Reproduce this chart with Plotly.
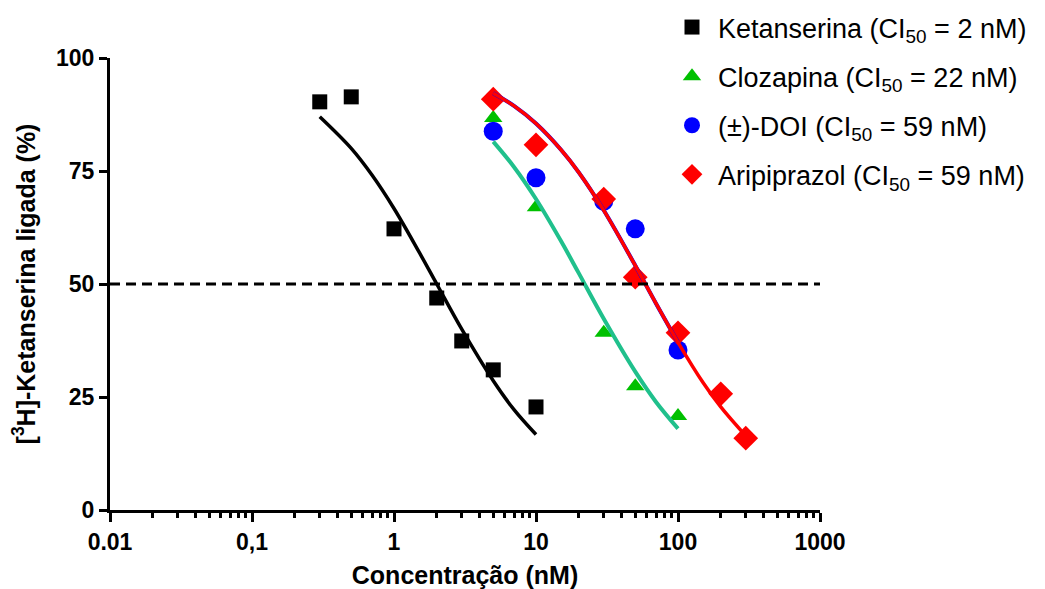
import plotly.graph_objects as go

# ---- data ----
conc_ket = [0.3, 0.5, 1, 2, 3, 5, 10]
bound_ket = [90.3, 91.4, 62.2, 46.9, 37.4, 31.0, 22.8]

conc_cloz = [5, 10, 30, 50, 100]
bound_cloz = [86.7, 67.0, 39.2, 27.4, 20.8]

conc_doi = [5, 10, 30, 50, 100]
bound_doi = [83.8, 73.5, 68.3, 62.2, 35.4]

conc_ari = [5, 10, 30, 50, 100, 200, 300]
bound_ari = [90.9, 80.8, 68.8, 51.5, 39.2, 25.7, 15.9]

# fitted curves
fit_ket_x = [0.3, 0.5, 0.7, 1, 1.5, 2, 3, 5, 7, 10]
fit_ket_y = [87.0, 80.0, 74.1, 66.7, 57.1, 50.0, 40.0, 28.6, 22.2, 16.7]
fit_cloz_x = [5, 7, 10, 15, 20, 30, 50, 70, 100]
fit_cloz_y = [81.5, 75.9, 68.8, 59.5, 52.4, 42.3, 30.6, 23.9, 18.0]
fit_doi_x = [5, 7, 10, 15, 20, 30, 50, 70, 100]
fit_doi_y = [92.2, 89.4, 85.5, 79.7, 74.7, 66.3, 54.1, 45.7, 37.1]
fit_ari_x = [5, 7, 10, 15, 20, 30, 50, 70, 100, 150, 200, 300]
fit_ari_y = [92.2, 89.4, 85.5, 79.7, 74.7, 66.3, 54.1, 45.7, 37.1, 28.2, 22.8, 16.4]

ref_level = 50
x_tickvals = [0.01, 0.1, 1, 10, 100, 1000]
x_ticktext = ["0.01", "0,1", "1", "10", "100", "1000"]
y_tickvals = [0, 25, 50, 75, 100]

names = [
    "Ketanserina (CI<sub>50</sub> = 2 nM)",
    "Clozapina (CI<sub>50</sub> = 22 nM)",
    "(\u00b1)-DOI (CI<sub>50</sub> = 59 nM)",
    "Aripiprazol (CI<sub>50</sub> = 59 nM)",
]

FONT = "Liberation Sans, Arial, sans-serif"
W, H = 1037, 581  # page adds an 8px body margin

fig = go.Figure()

# markers (legend entries)
fig.add_trace(go.Scatter(x=conc_ket, y=bound_ket, mode="markers", name=names[0], legendgroup="g0",
                         marker=dict(symbol="square", size=15, color="#000000")))
fig.add_trace(go.Scatter(x=conc_cloz, y=bound_cloz, mode="markers", name=names[1], legendgroup="g1",
                         marker=dict(symbol="triangle-up", size=16, color="#00c000")))
fig.add_trace(go.Scatter(x=conc_doi, y=bound_doi, mode="markers", name=names[2], legendgroup="g2",
                         marker=dict(symbol="circle", size=19, color="#0000ff")))
fig.add_trace(go.Scatter(x=conc_ari, y=bound_ari, mode="markers", name=names[3], legendgroup="g3",
                         marker=dict(symbol="diamond", size=19, color="#ff0000")))

# fitted curves
fig.add_trace(go.Scatter(x=fit_ket_x, y=fit_ket_y, mode="lines", showlegend=False,
                         line=dict(color="#000000", width=3.5, shape="spline")))
fig.add_trace(go.Scatter(x=fit_cloz_x, y=fit_cloz_y, mode="lines", showlegend=False,
                         line=dict(color="#20c08c", width=4, shape="spline")))
fig.add_trace(go.Scatter(x=fit_doi_x, y=fit_doi_y, mode="lines", showlegend=False,
                         line=dict(color="#0000ff", width=4, shape="spline")))
fig.add_trace(go.Scatter(x=fit_ari_x, y=fit_ari_y, mode="lines", showlegend=False,
                         line=dict(color="#ff0000", width=3.5, shape="spline")))

# dashed 50% line
fig.add_trace(go.Scatter(x=[x_tickvals[0], x_tickvals[-1]], y=[ref_level, ref_level],
                         mode="lines", showlegend=False,
                         line=dict(color="#000000", width=3, dash="10px,6px")))

fig.update_layout(
    width=W, height=H,
    margin=dict(l=102, r=225, t=50, b=79, autoexpand=False),
    paper_bgcolor="white", plot_bgcolor="white",
    font=dict(family=FONT, color="black"),
    legend=dict(xref="container", x=658 / W, xanchor="left",
                yref="paper", y=1 + 55 / 452, yanchor="top",
                font=dict(family=FONT, size=27, color="black"),
                tracegroupgap=11, itemsizing="trace", itemwidth=42,
                bgcolor="rgba(0,0,0,0)"),
    xaxis=dict(type="log", range=[-2, 3], tickvals=x_tickvals, ticktext=x_ticktext,
               showgrid=False, zeroline=False, showline=True, linewidth=3, linecolor="black",
               ticks="outside", ticklen=9, tickwidth=3, tickcolor="black",
               tickfont=dict(family=FONT, size=23, color="black", weight="bold"),
               minor=dict(ticks="outside", ticklen=5, tickwidth=3, tickcolor="black", dtick="D1"),
               title=dict(text="<b>Concentração (nM)</b>", font=dict(family=FONT, size=25), standoff=13)),
    yaxis=dict(range=[0, 100], tickvals=y_tickvals,
               showgrid=False, zeroline=False, showline=True, linewidth=3, linecolor="black",
               ticks="outside", ticklen=8, tickwidth=3, tickcolor="black",
               tickfont=dict(family=FONT, size=23, color="black", weight="bold"),
               title=dict(text="<b>[<sup>3</sup>H]-Ketanserina ligada (%)</b>",
                          font=dict(family=FONT, size=25), standoff=16)),
)

fig.write_html("out.html")
